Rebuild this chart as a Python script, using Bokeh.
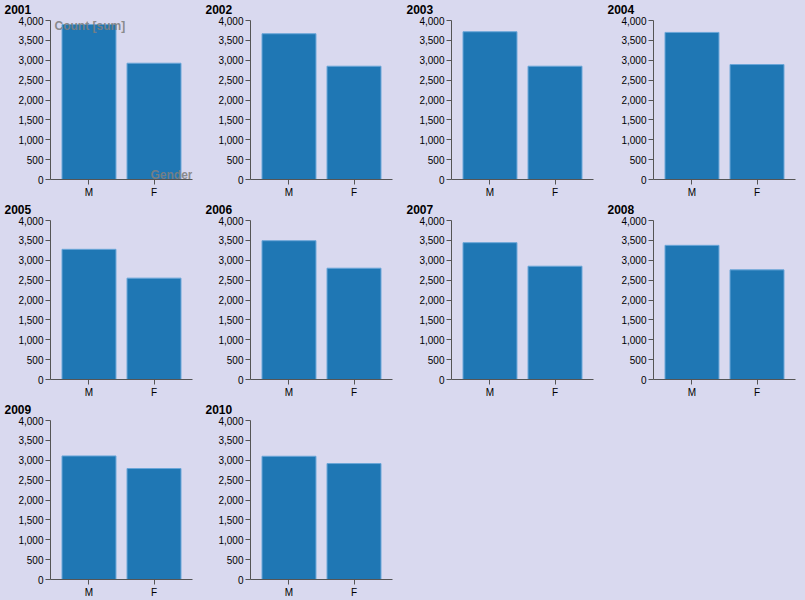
from bokeh.plotting import figure
from bokeh.models import FactorRange, Range1d, NumeralTickFormatter, FixedTicker, Label, ColumnDataSource, Title
from bokeh.layouts import gridplot
from bokeh.embed import file_html
from bokeh.resources import INLINE

# ---- data ----
years = ["2001", "2002", "2003", "2004", "2005", "2006", "2007", "2008", "2009", "2010"]
genders = ["M", "F"]
male_counts = [3900, 3667, 3717, 3700, 3275, 3492, 3442, 3375, 3108, 3100]
female_counts = [2925, 2850, 2850, 2892, 2550, 2800, 2850, 2758, 2792, 2917]
y_ticks = [0, 500, 1000, 1500, 2000, 2500, 3000, 3500, 4000]
x_title = "Gender"
y_title = "Count [sum]"

# ---- style ----
BG = "#d9d9ef"
BAR = "#1f77b4"
BAR_EDGE = "#6aa6d8"
AXIS = "#555555"
FONT = "Liberation Sans"
COL_W = 201
FRAME_W = 142
col_left = [50, 49, 49, 50]
row_spec = [(20, 160, 20), (20, 160, 20), (20, 160, 20)]  # top, frame, bottom

figs = []
for i, yr in enumerate(years):
    r, c = divmod(i, 4)
    top, fh, bot = row_spec[r]
    left = col_left[c]
    right = COL_W - left - FRAME_W
    p = figure(width=COL_W, height=top + fh + bot,
               x_range=FactorRange(factors=genders, range_padding=0.092),
               y_range=Range1d(0, 4000),
               output_backend="svg", toolbar_location=None,
               min_border_left=left, min_border_right=right,
               min_border_top=top, min_border_bottom=bot,
               background_fill_color=BG, border_fill_color=BG,
               outline_line_color=None)
    src = ColumnDataSource(dict(g=genders, n=[male_counts[i], female_counts[i]]))
    p.vbar(x="g", top="n", width=0.83, source=src,
           fill_color=BAR, line_color=BAR_EDGE, line_width=1)
    p.xgrid.visible = False
    p.ygrid.visible = False
    for ax in (p.xaxis[0], p.yaxis[0]):
        ax.axis_line_color = AXIS
        ax.major_tick_line_color = AXIS
        ax.major_tick_out = 5
        ax.major_tick_in = 0
        ax.minor_tick_line_color = None
        ax.major_label_text_font = FONT
        ax.major_label_text_font_size = "10px"
        ax.major_label_text_color = "#000000"
        ax.major_label_standoff = 2
    p.yaxis[0].ticker = FixedTicker(ticks=y_ticks)
    p.yaxis[0].formatter = NumeralTickFormatter(format="0,0")

    p.title.text = yr
    p.title.align = "left"
    p.title.offset = 4 - left
    p.title.standoff = 0
    p.title.text_font = FONT
    p.title.text_font_style = "bold"
    p.title.text_font_size = "12px"
    p.title.text_color = "#000000"
    # thin spacer between the year title and the plot frame
    p.add_layout(Title(text=" ", text_font_size="1px", standoff=4), "above")

    if i == 0:
        p.add_layout(Label(x=4, y=fh + 1, x_units="screen", y_units="screen",
                           text=y_title, text_font=FONT, text_font_style="bold",
                           text_font_size="12px", text_color="#808080", text_alpha=0.9,
                           text_align="left", text_baseline="top"))
        p.add_layout(Label(x=FRAME_W, y=5, x_units="screen", y_units="screen",
                           text=x_title, text_font=FONT, text_font_style="bold",
                           text_font_size="12px", text_color="#808080", text_alpha=0.9,
                           text_align="right", text_baseline="alphabetic"))
    figs.append(p)

grid = gridplot([figs[0:4], figs[4:8], [figs[8], figs[9], None, None]],
                toolbar_location=None)

html = file_html(grid, INLINE)
html = html.replace("</head>", "<style>html,body{background:%s;}</style></head>" % BG, 1)
open("out.html", "w").write(html)
